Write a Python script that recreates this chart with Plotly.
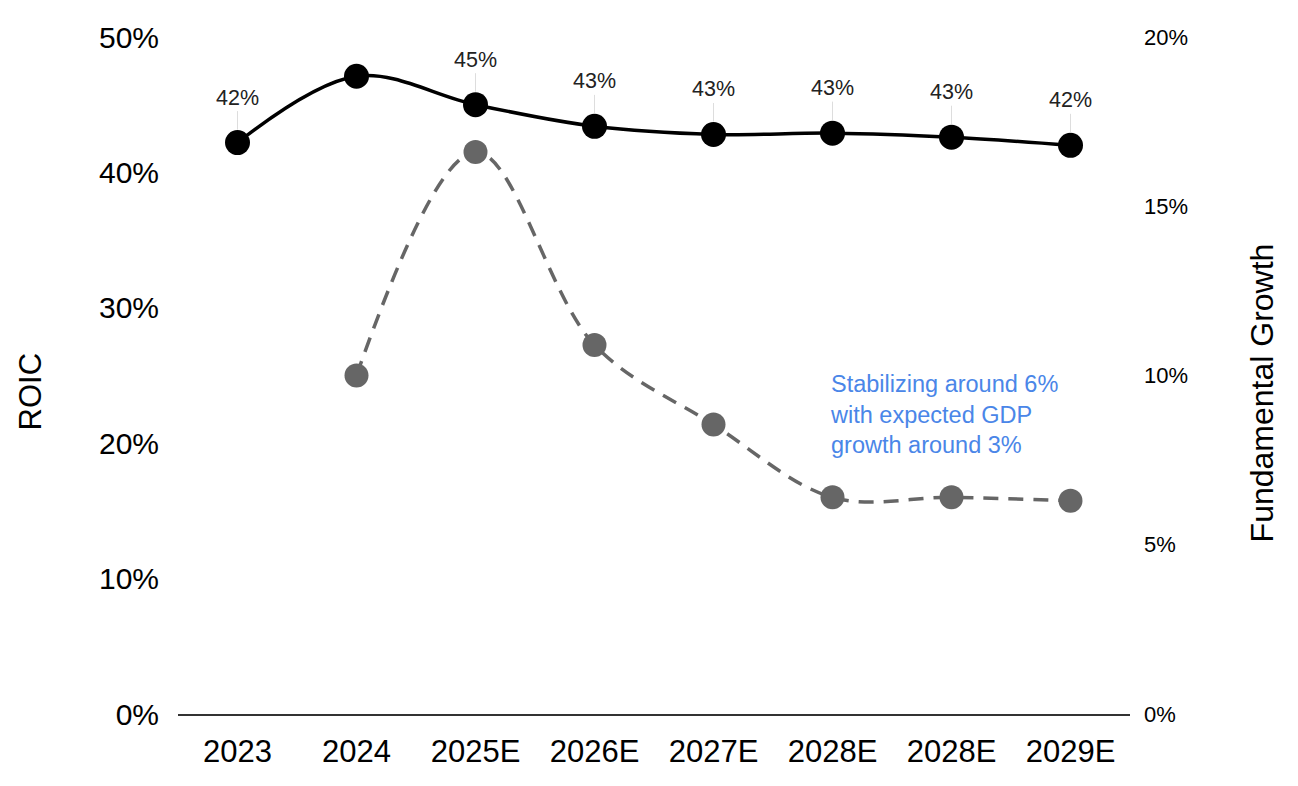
import plotly.graph_objects as go

categories = ["2023", "2024", "2025E", "2026E", "2027E", "2028E", "2028E", "2029E"]
roic = [42.2, 47.1, 45.0, 43.4, 42.8, 42.9, 42.6, 42.0]
roic_labeled = [True, False, True, True, True, True, True, True]
growth = [None, 10.0, 16.6, 10.9, 8.55, 6.4, 6.4, 6.3]
left_ticks = [0, 10, 20, 30, 40, 50]
left_ticktext = ["0%", "10%", "20%", "30%", "40%", "50%"]
right_ticks = [0, 5, 10, 15, 20]
right_ticktext = ["0%", "5%", "10%", "15%", "20%"]
note_text = "Stabilizing around 6%<br>with expected GDP<br>growth around 3%"

x = list(range(len(categories)))
FONT = "Liberation Sans, Arial, sans-serif"

# page has an 8px body margin; plot area target: x 178..1130, y 34..714 in screenshot
W, H = 1290, 778
L, T = 170, 26
PW, PH = 952, 680

fig = go.Figure()
fig.add_trace(go.Scatter(
    x=x, y=growth, yaxis="y2", mode="lines+markers",
    line=dict(color="#666666", width=3.5, dash="15px,10px", shape="spline", smoothing=1),
    marker=dict(color="#666666", size=24),
    connectgaps=False, showlegend=False, cliponaxis=False,
))
fig.add_trace(go.Scatter(
    x=x, y=roic, yaxis="y", mode="lines+markers",
    line=dict(color="#000000", width=3.5, shape="spline", smoothing=1),
    marker=dict(color="#000000", size=25),
    showlegend=False, cliponaxis=False,
))

for xi, v, show in zip(x, roic, roic_labeled):
    if not show:
        continue
    fig.add_annotation(
        x=xi, y=v, xref="x", yref="y", text=f"{v:.0f}%",
        showarrow=True, arrowhead=0, arrowwidth=1, arrowcolor="#dddddd",
        ax=0, ay=-45, standoff=13,
        font=dict(family=FONT, size=21.5, color="#222222"),
    )

fig.add_annotation(
    x=5, y=22.1, xref="x", yref="y", text=note_text, showarrow=False,
    xanchor="left", yanchor="middle", align="left", xshift=-5,
    font=dict(family=FONT, size=23.5, color="#4a86e8"),
)

fig.add_annotation(
    x=(30 - 178) / PW, y=(714 - 390) / PH, xref="paper", yref="paper",
    xanchor="center", yanchor="middle",
    text="ROIC", textangle=-90, showarrow=False,
    font=dict(family=FONT, size=31, color="#000000"),
)
fig.add_annotation(
    x=(1262 - 178) / PW, y=(714 - 392) / PH, xref="paper", yref="paper",
    xanchor="center", yanchor="middle",
    text="Fundamental Growth", textangle=-90, showarrow=False,
    font=dict(family=FONT, size=32, color="#000000"),
)

fig.update_layout(
    width=W, height=H,
    margin=dict(l=L, r=W - L - PW, t=T, b=H - T - PH),
    paper_bgcolor="white", plot_bgcolor="white",
    font=dict(family=FONT, color="#000000"),
    xaxis=dict(
        tickvals=x, ticktext=categories, range=[-0.5, len(categories) - 0.5],
        showgrid=False, zeroline=False, showline=True, linecolor="#333333", linewidth=2,
        tickfont=dict(size=31, color="#000000"), ticks="", ticklabelstandoff=9,
    ),
    yaxis=dict(
        range=[0, 50], tickvals=left_ticks, ticktext=left_ticktext,
        showgrid=False, zeroline=False, showline=False,
        tickfont=dict(size=30, color="#000000"), ticks="", ticklabelstandoff=18,
    ),
    yaxis2=dict(
        range=[0, 20], tickvals=right_ticks, ticktext=right_ticktext,
        overlaying="y", side="right",
        showgrid=False, zeroline=False, showline=False,
        tickfont=dict(size=22, color="#000000"), ticks="", ticklabelstandoff=13,
    ),
)

fig.write_html("out.html")
